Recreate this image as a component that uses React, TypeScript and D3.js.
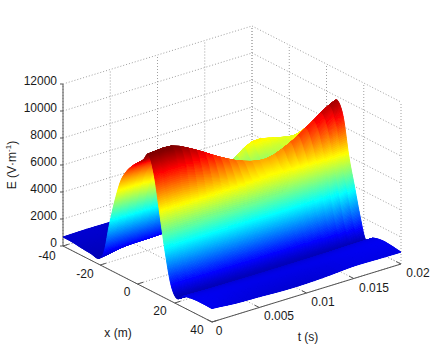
import React, { useMemo } from "react";
import * as d3 from "d3";

const xValues = [-40,-35,-30,-25,-21,-18,-15,-12,-9,-6,-3,0,3,6,9,12,15,18,21,25,30,35,40];
const tValues = [0,0.0025,0.005,0.0075,0.01,0.0125,0.015,0.0175,0.02];
// E(x, t): one row per x, one column per t
const eValues = [
  [670,700,690,690,700,710,730,750,770],
  [650,660,660,670,680,690,700,720,730],
  [560,600,620,640,650,660,680,700,710],
  [500,570,610,640,660,680,700,720,730],
  [430,880,1030,1080,1100,1100,1120,1200,1500],
  [1100,1200,1200,1250,1300,2500,3500,3000,3800],
  [3400,3300,3200,3000,3500,5000,6200,5900,5400],
  [5400,5300,5000,4700,4800,5000,5700,5700,6300],
  [7000,6900,6500,6100,5200,4700,5100,5600,6900],
  [7900,7800,7400,6700,5300,4600,4900,5800,7560],
  [8500,8400,7900,7000,5700,5000,5300,6600,8150],
  [8960,8900,8300,7300,6200,5600,5900,7400,8740],
  [9400,9500,8700,7700,6800,6300,6800,8100,9330],
  [10000,10050,9250,8200,7350,7000,7650,8700,9700],
  [8700,8800,8200,7400,6700,6400,6900,7800,8700],
  [6000,6100,6000,5950,5800,5750,5800,5900,6000],
  [3300,3350,3350,3300,3250,3250,3300,3500,4000],
  [1200,1300,1300,1300,1250,1250,1350,1500,2000],
  [430,450,470,480,480,480,470,460,460],
  [850,800,780,760,760,770,790,830,860],
  [1000,980,950,930,930,940,970,1000,1020],
  [1020,950,880,850,840,860,940,980,980],
  [1000,850,800,720,720,800,920,900,880],
];
const xTicks = [-40,-20,0,20,40];
const tTicks = [0,0.005,0.01,0.015,0.02];
const zTicks = [0,2000,4000,6000,8000,10000,12000];
const tLabels = ["0","0.005","0.01","0.015","0.02"];
const jetStops = ["#000080","#0000ff","#00ffff","#ffff00","#ff0000","#800000"];
const jetDomain = [0,0.125,0.375,0.625,0.875,1];

const W = 443, H = 361;
const ox = d3.scaleLinear().domain([-40,40]).range([0,149]);
const oxy = d3.scaleLinear().domain([-40,40]).range([0,76]);
const ot = d3.scaleLinear().domain([0,0.02]).range([0,189]);
const oty = d3.scaleLinear().domain([0,0.02]).range([0,-58]);
const oz = d3.scaleLinear().domain([0,12000]).range([246,84]);
const project = (x:number,t:number,z:number):[number,number] => [63+ox(x)+ot(t), oz(z)+oxy(x)+oty(t)];
const jet = d3.scaleLinear<string>().domain(jetDomain.map(d=>-100+d*10100)).range(jetStops).clamp(true);

const cr = (p0:number,p1:number,p2:number,p3:number,u:number)=>
  0.5*(2*p1+(p2-p0)*u+(2*p0-5*p1+4*p2-p3)*u*u+(3*p1-p0-3*p2+p3)*u*u*u);
function refine(a:number[],n:number){
  const out:number[]=[];
  for(let i=0;i<a.length-1;i++){
    const p0=a[Math.max(i-1,0)],p1=a[i],p2=a[i+1],p3=a[Math.min(i+2,a.length-1)];
    for(let k=0;k<n;k++) out.push(cr(p0,p1,p2,p3,k/n));
  }
  out.push(a[a.length-1]);
  return out;
}
function linRefine(a:number[],n:number){
  const out:number[]=[];
  for(let i=0;i<a.length-1;i++) for(let k=0;k<n;k++) out.push(a[i]+(a[i+1]-a[i])*k/n);
  out.push(a[a.length-1]);
  return out;
}
const SX=20, ST=3;

function Surface(){
  const quads = useMemo(()=>{
    const xs=linRefine(xValues,SX), ts=linRefine(tValues,ST);
    const byX=eValues.map(r=>refine(r,ST));
    const cols=ts.map((_,j)=>refine(byX.map(r=>r[j]),SX));
    const res:{d:string,c:string}[]=[];
    const line=d3.line();
    for(let i=0;i<xs.length-1;i++){
      for(let j=ts.length-2;j>=0;j--){
        const z00=cols[j][i],z10=cols[j][i+1],z01=cols[j+1][i],z11=cols[j+1][i+1];
        const d=line([project(xs[i],ts[j],z00),project(xs[i+1],ts[j],z10),project(xs[i+1],ts[j+1],z11),project(xs[i],ts[j+1],z01)])+"Z";
        res.push({d,c:jet((z00+z10+z01+z11)/4)});
      }
    }
    return res;
  },[]);
  return <g filter="url(#soft)">{quads.map((q,i)=><path key={i} d={q.d} fill={q.c} stroke={q.c} strokeWidth={1}/>)}</g>;
}

const gridStyle={stroke:"#a0a0a0",strokeWidth:1,strokeDasharray:"1 2",fill:"none"};
const axisStyle={stroke:"#555",strokeWidth:1,fill:"none"};
const seg=(a:[number,number],b:[number,number])=>`M${a[0]},${a[1]}L${b[0]},${b[1]}`;

const xLabelPos:[number,number,string][]=[[47,257,"-40"],[85,275,"-20"],[127,293,"0"],[160,312,"20"],[197,331,"40"]];
const tLabelPos:[number,number][]=[[219,332],[279,317],[323,303],[374,289],[418,274]];

export default function App(){
  const x0=-40,x1=40,t0=0,t1=0.02,z1=12000;
  return (
    <svg width={W} height={H} viewBox={`0 0 ${W} ${H}`} style={{position:"absolute",left:0,top:0,background:"#fff"}}
      fontFamily="'Liberation Sans',Arial,sans-serif" fontSize={12} fill="#1a1a1a">
      <defs>
        <filter id="soft" x="-5%" y="-5%" width="110%" height="110%"><feGaussianBlur stdDeviation="0.7"/></filter>
      </defs>
      <g>
        {zTicks.map(z=><path key={"a"+z} {...gridStyle} d={seg(project(x0,t0,z),project(x0,t1,z))}/>)}
        {zTicks.map(z=><path key={"b"+z} {...gridStyle} d={seg(project(x0,t1,z),project(x1,t1,z))}/>)}
        {tTicks.map(t=><path key={"c"+t} {...gridStyle} d={seg(project(x0,t,0),project(x0,t,z1))}/>)}
        {xTicks.map(x=><path key={"d"+x} {...gridStyle} d={seg(project(x,t1,0),project(x,t1,z1))}/>)}
        {tTicks.map(t=><path key={"e"+t} {...gridStyle} d={seg(project(x0,t,0),project(x1,t,0))}/>)}
        {xTicks.map(x=><path key={"f"+x} {...gridStyle} d={seg(project(x,t0,0),project(x,t1,0))}/>)}
      </g>
      <g>
        <path {...axisStyle} d={seg(project(x0,t0,0),project(x0,t0,z1))}/>
        <path {...axisStyle} d={seg(project(x0,t0,0),project(x1,t0,0))}/>
        <path {...axisStyle} d={seg(project(x1,t0,0),project(x1,t1,0))}/>
        {zTicks.map(z=><path key={z} {...axisStyle} d={seg(project(x0,t0,z),[project(x0,t0,z)[0]-3,project(x0,t0,z)[1]])}/>)}
        {xTicks.map(x=><path key={x} {...axisStyle} d={seg(project(x,t0,0),project(x,t0+0.0006,0))}/>)}
        {tTicks.map(t=><path key={t} {...axisStyle} d={seg(project(x1,t,0),project(x1-2.5,t,0))}/>)}
      </g>
      <Surface/>
      <g>
        {zTicks.map(z=><text key={z} x={57} y={project(x0,t0,z)[1]-2} textAnchor="end" dominantBaseline="middle">{z}</text>)}
        {xLabelPos.map(([x,y,s])=><text key={s} x={x} y={y} textAnchor="middle" dominantBaseline="middle">{s}</text>)}
        {tLabelPos.map(([x,y],i)=><text key={i} x={x} y={y} textAnchor="middle" dominantBaseline="middle">{tLabels[i]}</text>)}
        <text x={118} y={334} textAnchor="middle" dominantBaseline="middle">x (m)</text>
        <text x={308} y={338} textAnchor="middle" dominantBaseline="middle">t (s)</text>
        <text transform="translate(13,165) rotate(-90)" textAnchor="middle" dominantBaseline="middle">
          E (V·m<tspan dy={-4} fontSize={8}>-1</tspan><tspan dy={4}>)</tspan>
        </text>
      </g>
    </svg>
  );
}
